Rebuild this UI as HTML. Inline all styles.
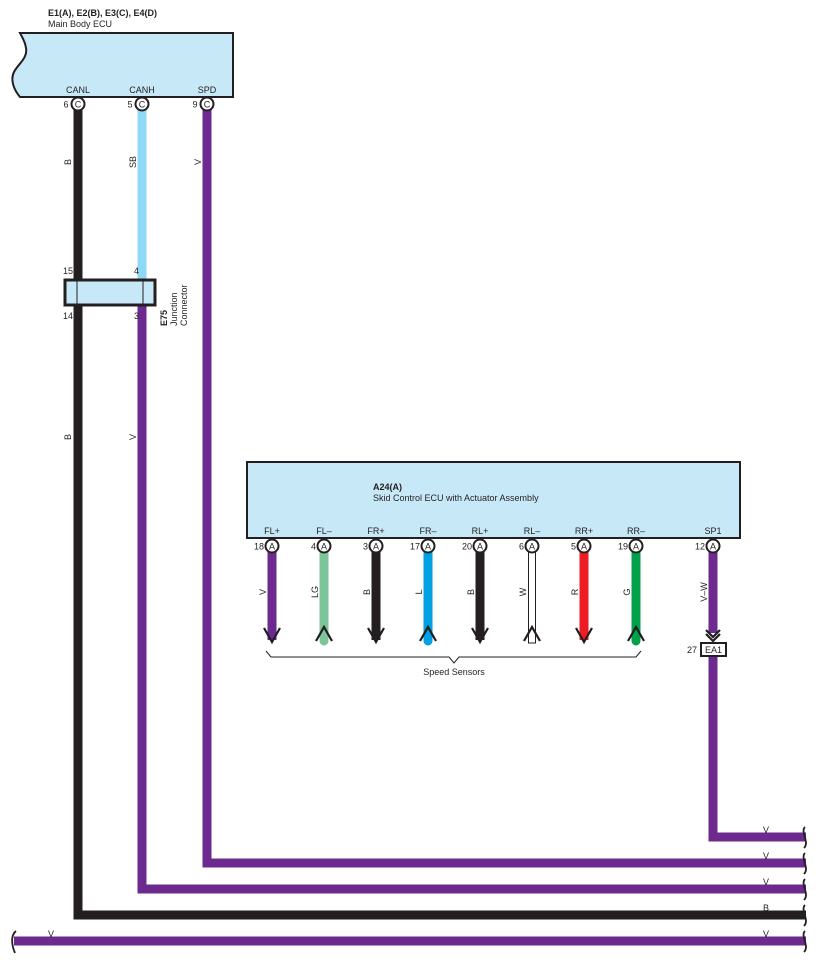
<!DOCTYPE html>
<html><head><meta charset="utf-8"><style>
html,body{margin:0;padding:0;background:#fff;}
svg{display:block;}
text{font-family:"Liberation Sans",Arial,sans-serif;fill:#231f20;}
</style></head><body>
<svg width="818" height="964" viewBox="0 0 818 964" xmlns="http://www.w3.org/2000/svg">
<!-- Main Body ECU -->
<text x="48" y="16" font-size="9" font-weight="bold">E1(A), E2(B), E3(C), E4(D)</text>
<text x="48" y="27" font-size="9">Main Body ECU</text>
<path d="M20,33 L233,33 L233,97 L20,97 C14,90 10,80 14,72 C18,64 28,58 26,48 C25,41 22,37 20,33 Z" fill="#c7e9f7" stroke="#231f20" stroke-width="2"/>
<text x="78" y="93" font-size="9" text-anchor="middle">CANL</text>
<text x="142" y="93" font-size="9" text-anchor="middle">CANH</text>
<text x="207" y="93" font-size="9" text-anchor="middle">SPD</text>

<!-- wires upper -->
<path d="M78,110 L78,915 L806,915" fill="none" stroke="#231f20" stroke-width="9"/>
<line x1="142" y1="110" x2="142" y2="280" stroke="#8ed8f8" stroke-width="9"/>
<path d="M142,305 L142,889 L806,889" fill="none" stroke="#6c2a8f" stroke-width="9"/>
<path d="M207,110 L207,863 L806,863" fill="none" stroke="#6c2a8f" stroke-width="9"/>
<path d="M713,552 L713,633" fill="none" stroke="#6c2a8f" stroke-width="9"/>
<path d="M713,656 L713,837 L806,837" fill="none" stroke="#6c2a8f" stroke-width="9"/>
<line x1="14" y1="941" x2="806" y2="941" stroke="#6c2a8f" stroke-width="9"/>

<!-- pins main -->
<g font-size="9">
<circle cx="78" cy="104" r="6.5" fill="#fff" stroke="#231f20" stroke-width="2"/><text x="78" y="107.5" text-anchor="middle">C</text><text x="66" y="107.5" text-anchor="middle">6</text>
<circle cx="142" cy="104" r="6.5" fill="#fff" stroke="#231f20" stroke-width="2"/><text x="142" y="107.5" text-anchor="middle">C</text><text x="130" y="107.5" text-anchor="middle">5</text>
<circle cx="207" cy="104" r="6.5" fill="#fff" stroke="#231f20" stroke-width="2"/><text x="207" y="107.5" text-anchor="middle">C</text><text x="195" y="107.5" text-anchor="middle">9</text>
</g>
<!-- wire labels vertical -->
<g font-size="9">
<text transform="translate(71,162) rotate(-90)" text-anchor="middle">B</text>
<text transform="translate(136,162) rotate(-90)" text-anchor="middle">SB</text>
<text transform="translate(201,162) rotate(-90)" text-anchor="middle">V</text>
<text transform="translate(71,437) rotate(-90)" text-anchor="middle">B</text>
<text transform="translate(136,437) rotate(-90)" text-anchor="middle">V</text>
</g>

<!-- Junction connector -->
<rect x="65" y="280" width="90" height="25" fill="#c7e9f7" stroke="#231f20" stroke-width="3"/>
<line x1="77" y1="281" x2="77" y2="304" stroke="#231f20" stroke-width="1"/>
<line x1="143" y1="281" x2="143" y2="304" stroke="#231f20" stroke-width="1"/>
<g font-size="9">
<text x="63" y="274">15</text><text x="134" y="274">4</text>
<text x="63" y="319">14</text><text x="134" y="319">3</text>
<text transform="translate(167,326) rotate(-90)" font-weight="bold">E75</text>
<text transform="translate(177,326) rotate(-90)">Junction</text>
<text transform="translate(187,326) rotate(-90)">Connector</text>
</g>

<!-- Skid control ECU -->
<rect x="247" y="462" width="493" height="76" fill="#c7e9f7" stroke="#231f20" stroke-width="2"/>
<text x="373" y="490" font-size="9" font-weight="bold">A24(A)</text>
<text x="373" y="501" font-size="9">Skid Control ECU with Actuator Assembly</text>

<g font-size="9" text-anchor="middle">
<text x="272" y="534">FL+</text><text x="324" y="534">FL–</text><text x="376" y="534">FR+</text><text x="428" y="534">FR–</text>
<text x="480" y="534">RL+</text><text x="532" y="534">RL–</text><text x="584" y="534">RR+</text><text x="636" y="534">RR–</text>
<text x="713" y="534">SP1</text>
</g>

<!-- sensor wires -->
<line x1="272" y1="552" x2="272" y2="640" stroke="#6c2a8f" stroke-width="9"/>
<line x1="324" y1="552" x2="324" y2="641" stroke="#7cc598" stroke-width="9" stroke-linecap="round"/>
<line x1="376" y1="552" x2="376" y2="640" stroke="#231f20" stroke-width="9"/>
<line x1="428" y1="552" x2="428" y2="641" stroke="#00a1e4" stroke-width="9" stroke-linecap="round"/>
<line x1="480" y1="552" x2="480" y2="640" stroke="#231f20" stroke-width="9"/>
<rect x="528.5" y="552" width="7" height="91" fill="#fff" stroke="#231f20" stroke-width="1"/>
<line x1="584" y1="552" x2="584" y2="640" stroke="#ed1c24" stroke-width="9"/>
<line x1="636" y1="552" x2="636" y2="641" stroke="#00a14b" stroke-width="9" stroke-linecap="round"/>

<!-- arrowheads -->
<g fill="none" stroke="#231f20" stroke-width="2.2">
<polyline points="264,628 272,642 280,628"/>
<polyline points="316,641 324,627 332,641"/>
<polyline points="368,628 376,642 384,628"/>
<polyline points="420,641 428,627 436,641"/>
<polyline points="472,628 480,642 488,628"/>
<polyline points="524,641 532,627 540,641"/>
<polyline points="576,628 584,642 592,628"/>
<polyline points="628,641 636,627 644,641"/>
<polyline points="706,630 713,637 720,630"/>
<polyline points="706,634 713,641 720,634"/>
</g>

<!-- pins skid -->
<g font-size="9">
<g text-anchor="middle">
<circle cx="272" cy="546" r="6.5" fill="#fff" stroke="#231f20" stroke-width="2"/><text x="272" y="549.5">A</text>
<circle cx="324" cy="546" r="6.5" fill="#fff" stroke="#231f20" stroke-width="2"/><text x="324" y="549.5">A</text>
<circle cx="376" cy="546" r="6.5" fill="#fff" stroke="#231f20" stroke-width="2"/><text x="376" y="549.5">A</text>
<circle cx="428" cy="546" r="6.5" fill="#fff" stroke="#231f20" stroke-width="2"/><text x="428" y="549.5">A</text>
<circle cx="480" cy="546" r="6.5" fill="#fff" stroke="#231f20" stroke-width="2"/><text x="480" y="549.5">A</text>
<circle cx="532" cy="546" r="6.5" fill="#fff" stroke="#231f20" stroke-width="2"/><text x="532" y="549.5">A</text>
<circle cx="584" cy="546" r="6.5" fill="#fff" stroke="#231f20" stroke-width="2"/><text x="584" y="549.5">A</text>
<circle cx="636" cy="546" r="6.5" fill="#fff" stroke="#231f20" stroke-width="2"/><text x="636" y="549.5">A</text>
<circle cx="713" cy="546" r="6.5" fill="#fff" stroke="#231f20" stroke-width="2"/><text x="713" y="549.5">A</text>
</g>
<g text-anchor="end">
<text x="264" y="549.5">18</text><text x="316" y="549.5">4</text><text x="368" y="549.5">3</text><text x="420" y="549.5">17</text>
<text x="472" y="549.5">20</text><text x="524" y="549.5">6</text><text x="576" y="549.5">5</text><text x="628" y="549.5">19</text><text x="705" y="549.5">12</text>
</g>
<g text-anchor="middle">
<text transform="translate(266,592) rotate(-90)">V</text>
<text transform="translate(318,592) rotate(-90)">LG</text>
<text transform="translate(370,592) rotate(-90)">B</text>
<text transform="translate(422,592) rotate(-90)">L</text>
<text transform="translate(474,592) rotate(-90)">B</text>
<text transform="translate(526,592) rotate(-90)">W</text>
<text transform="translate(578,592) rotate(-90)">R</text>
<text transform="translate(630,592) rotate(-90)">G</text>
<text transform="translate(707,592) rotate(-90)">V–W</text>
</g>
</g>

<!-- EA1 -->
<rect x="701" y="643" width="25" height="13" fill="#fff" stroke="#231f20" stroke-width="2"/>
<text x="713.5" y="653" font-size="9" text-anchor="middle">EA1</text>
<text x="697" y="653" font-size="9" text-anchor="end">27</text>

<!-- bracket -->
<path d="M266,651 L271,657 L449,657 L454,663 L459,657 L636,657 L641,651" fill="none" stroke="#231f20" stroke-width="1"/>
<text x="454" y="675" font-size="9" text-anchor="middle">Speed Sensors</text>

<!-- bottom labels -->
<g font-size="9" text-anchor="middle">
<text x="766" y="833">V</text><text x="766" y="859">V</text><text x="766" y="885">V</text>
<text x="766" y="911">B</text><text x="766" y="937">V</text><text x="51" y="937">V</text>
</g>
<!-- wavy ends -->
<g fill="none" stroke="#231f20" stroke-width="1.8">
<path d="M805,827 C800,832 810,842 804,848"/>
<path d="M805,853 C800,858 810,868 804,874"/>
<path d="M805,879 C800,884 810,894 804,900"/>
<path d="M805,905 C800,910 810,920 804,926"/>
<path d="M805,931 C800,936 810,946 804,952"/>
<path d="M16,931 C10,936 12,946 15,953"/>
</g>
</svg>
</body></html>
